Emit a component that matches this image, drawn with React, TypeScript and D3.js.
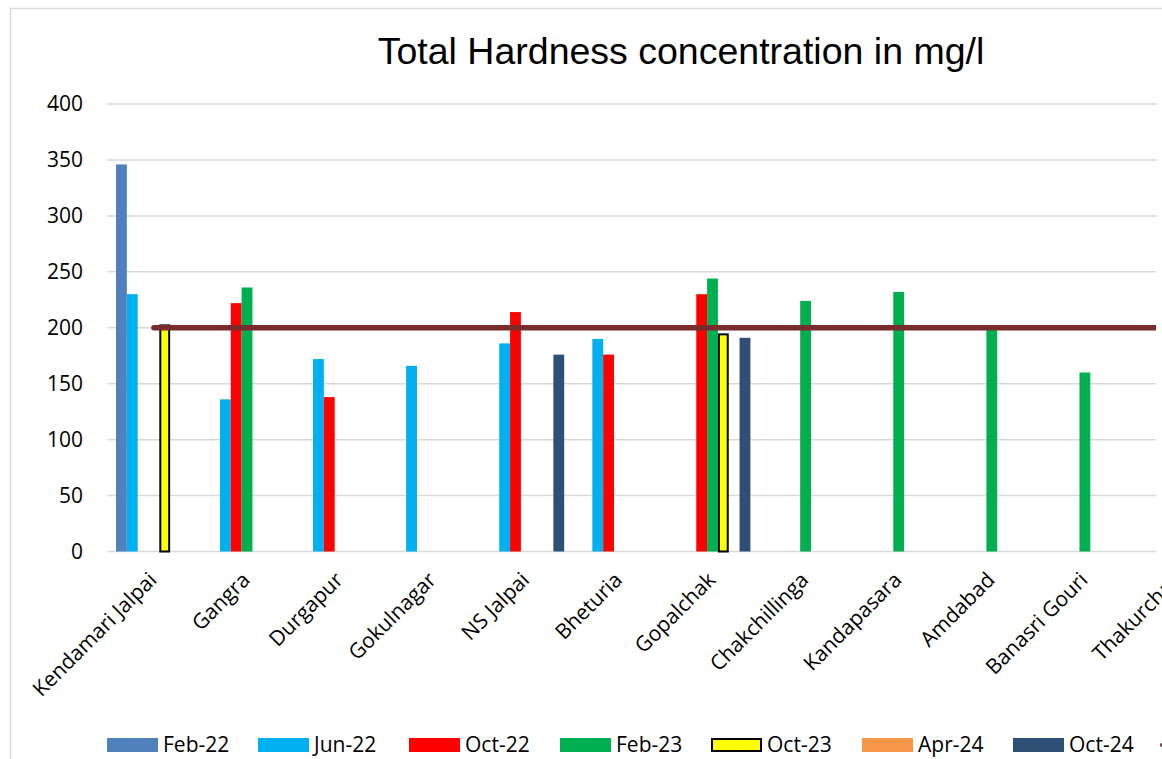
import React from "react";
import * as d3 from "d3";

const categories = [
  "Kendamari Jalpai",
  "Gangra",
  "Durgapur",
  "Gokulnagar",
  "NS Jalpai",
  "Bheturia",
  "Gopalchak",
  "Chakchillinga",
  "Kandapasara",
  "Amdabad",
  "Banasri Gouri",
  "Thakurchak",
];

const seriesNames = ["Feb-22", "Jun-22", "Oct-22", "Feb-23", "Oct-23", "Apr-24", "Oct-24"];
const seriesColors = ["#4F81BD", "#00B0F0", "#FF0000", "#00B050", "#FFFF00", "#F79646", "#2E5077"];

type V = number | null;
const feb22: V[] = [346, null, null, null, null, null, null, null, null, null, null, null];
const jun22: V[] = [230, 136, 172, 166, 186, 190, null, null, null, null, null, null];
const oct22: V[] = [null, 222, 138, null, 214, 176, 230, null, null, null, null, null];
const feb23: V[] = [null, 236, null, null, null, null, 244, 224, 232, 199, 160, null];
const oct23: V[] = [203, null, null, null, null, null, 195, null, null, null, null, null];
const apr24: V[] = [null, null, null, null, null, null, null, null, null, null, null, null];
const oct24: V[] = [null, null, null, null, 176, null, 191, null, null, null, null, null];
const seriesValues = [feb22, jun22, oct22, feb23, oct23, apr24, oct24];

const limitName = "Permissible limit";
const limitValues = [200, 200, 200, 200, 200, 200, 200, 200, 200, 200, 200, 200];
const limitColor = "#7A2B2B";

const yTicks = [0, 50, 100, 150, 200, 250, 300, 350, 400];

const W = 1162;
const H = 759;
const plotLeft = 107.35;
const step = 93.1;
const plotVisibleRight = 1156;
const yBottom = 551.5;
const yTop = 104;

export default function App() {
  const x = d3
    .scaleBand<string>()
    .domain(categories)
    .range([plotLeft, plotLeft + step * categories.length])
    .paddingInner(0)
    .paddingOuter(0);
  const xs = d3
    .scaleBand<string>()
    .domain(seriesNames)
    .range([0, x.bandwidth()])
    .paddingInner(0)
    .paddingOuter(0.8);
  const y = d3.scaleLinear().domain([0, 400]).range([yBottom, yTop]);

  const line = d3
    .line<number>()
    .x((_, i) => (x(categories[i]) as number) + x.bandwidth() / 2)
    .y((d) => y(d));

  const font = "'Open Sans', sans-serif";
  const legendX0 = 107;
  const legendStep = 151;
  const legendY = 745;

  return (
    <svg
      width={W}
      height={H}
      style={{ position: "absolute", left: 0, top: 0, display: "block", background: "#fff" }}
    >
      <defs>
        <clipPath id="plotClip">
          <rect x={0} y={0} width={plotVisibleRight} height={H} />
        </clipPath>
      </defs>
      <rect x={10.5} y={8.5} width={W + 50} height={H + 50} fill="none" stroke="#D9D9D9" strokeWidth={1.5} />
      <text
        x={681}
        y={64}
        textAnchor="middle"
        fontFamily="'Liberation Sans', Arial, sans-serif"
        fontSize={37.5}
        fill="#000"
      >
        Total Hardness concentration in mg/l
      </text>
      <g clipPath="url(#plotClip)">
        {yTicks.map((t) => (
          <line
            key={t}
            x1={plotLeft}
            x2={plotVisibleRight}
            y1={y(t)}
            y2={y(t)}
            stroke="#D9D9D9"
            strokeWidth={1.5}
          />
        ))}
        {seriesValues.map((vals, si) =>
          vals.map((v, ci) => {
            if (v == null) return null;
            const bx = (x(categories[ci]) as number) + (xs(seriesNames[si]) as number);
            const bw = xs.bandwidth();
            const isOutlined = seriesNames[si] === "Oct-23";
            return (
              <rect
                key={si + "-" + ci}
                x={isOutlined ? bx + 1 : bx}
                y={isOutlined ? y(v) + 1 : y(v)}
                width={isOutlined ? bw - 2 : bw}
                height={isOutlined ? yBottom - y(v) - 1 : yBottom - y(v)}
                fill={seriesColors[si]}
                stroke={isOutlined ? "#000" : "none"}
                strokeWidth={isOutlined ? 2 : 0}
              />
            );
          })
        )}
        <path
          d={line(limitValues) || ""}
          fill="none"
          stroke={limitColor}
          strokeWidth={5.5}
          strokeLinecap="round"
        />
      </g>
      {yTicks.map((t) => (
        <text
          key={t}
          x={83}
          y={y(t)}
          dy="0.35em"
          textAnchor="end"
          fontFamily={font}
          fontSize={21}
          fill="#000"
        >
          {t}
        </text>
      ))}
      {categories.map((c) => {
        const cx = (x(c) as number) + x.bandwidth() / 2;
        return (
          <text
            key={c}
            transform={`translate(${cx - 1},${576}) rotate(-45)`}
            dy="0.35em"
            textAnchor="end"
            fontFamily={font}
            fontSize={21}
            fill="#000"
          >
            {c}
          </text>
        );
      })}
      {seriesNames.map((s, i) => {
        const lx = legendX0 + i * legendStep;
        const outlined = s === "Oct-23";
        return (
          <g key={s}>
            <rect
              x={outlined ? lx + 1 : lx}
              y={outlined ? legendY - 6 : legendY - 7}
              width={outlined ? 49 : 51}
              height={outlined ? 12 : 14}
              fill={seriesColors[i]}
              stroke={outlined ? "#000" : "none"}
              strokeWidth={outlined ? 2 : 0}
            />
            <text
              x={lx + 56}
              y={legendY}
              dy="0.35em"
              fontFamily={font}
              fontSize={21}
              fill="#000"
            >
              {s}
            </text>
          </g>
        );
      })}
      <g>
        <line
          x1={legendX0 + 7 * legendStep - 2}
          x2={legendX0 + 7 * legendStep + 49}
          y1={legendY}
          y2={legendY}
          stroke={limitColor}
          strokeWidth={4}
          strokeLinecap="round"
        />
        <text
          x={legendX0 + 7 * legendStep + 56}
          y={legendY}
          dy="0.35em"
          fontFamily={font}
          fontSize={21}
          fill="#000"
        >
          {limitName}
        </text>
      </g>
    </svg>
  );
}
